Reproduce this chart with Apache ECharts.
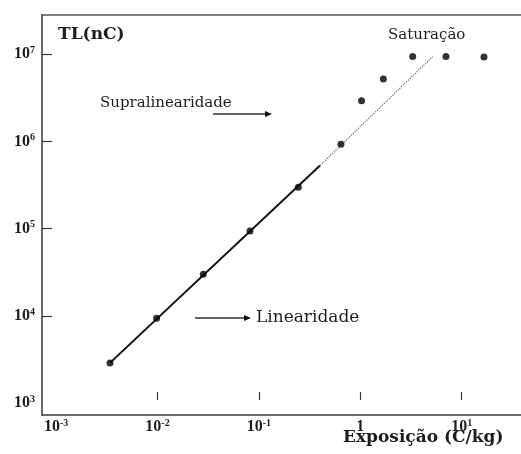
<!DOCTYPE html>
<html>
<head>
<meta charset="utf-8">
<script src="https://cdn.jsdelivr.net/npm/echarts@6/dist/echarts.min.js"></script>
<style>html,body{margin:0;padding:0;background:#fff}#c{width:521px;height:454px}</style>
</head>
<body>
<div id="c"></div>
<script>
// Data (log-log)
var exposure = [0.0034, 0.0098, 0.0283, 0.0817, 0.245, 0.645, 1.03, 1.69, 3.29, 7.0, 16.6];
var tlCharge = [2900, 9400, 30000, 94500, 299000, 931000, 2.93e6, 5.22e6, 9.4e6, 9.4e6, 9.3e6];
var linearFitX = [0.0034, 0.401];
var linearFitY = [2900, 530000];
var extrapX = [0.401, 5.18];
var extrapY = [530000, 9.4e6];
var xTickLabels = [0.001, 0.01, 0.1, 1, 10];
var xTickMarks = [0.01, 0.1, 1, 10];
var yTickLabels = [1e3, 1e4, 1e5, 1e6, 1e7];
var yTickMarks = [1e4, 1e5, 1e6, 1e7];

var xMin = Math.pow(10, -3.139), xMax = Math.pow(10, 1.615);
var yMin = Math.pow(10, 2.865), yMax = Math.pow(10, 7.45);

function pairs(a, b) { return a.map(function (v, i) { return [v, b[i]]; }); }
function powLabel(v) {
  var e = Math.round(Math.log10(v));
  if (e === 0) return '{b|1}';
  return '{b|10}{s|' + e + '}';
}
var ink = '#1e1e1e';
var axisCol = '#3a3a3a';
var richLab = {
  b: { fontFamily: 'Liberation Serif', fontWeight: 'bold', fontSize: 16, color: ink, lineHeight: 18 },
  s: { fontFamily: 'Liberation Serif', fontWeight: 'bold', fontSize: 10, color: ink, lineHeight: 18, padding: [0, 0, 8, 0] }
};

var chart = echarts.init(document.getElementById('c'));
chart.setOption({
  animation: false,
  backgroundColor: '#fff',
  grid: { left: 42, right: -3, top: 15, bottom: 39, containLabel: false, outerBoundsMode: 'none', show: false },
  xAxis: [
    {
      type: 'log', logBase: 10, min: xMin, max: xMax, position: 'bottom',
      splitLine: { show: false },
      axisLine: { show: true, lineStyle: { color: axisCol, width: 1.5 } },
      axisTick: { show: false },
      axisLabel: { customValues: xTickLabels, formatter: powLabel, rich: richLab, margin: 3 }
    },
    {
      type: 'log', logBase: 10, min: xMin, max: xMax, position: 'bottom', offset: -15,
      splitLine: { show: false },
      axisLine: { show: false },
      axisTick: { show: true, inside: true, length: 8, customValues: xTickMarks, lineStyle: { color: axisCol, width: 1.2 } },
      axisLabel: { show: false }
    },
    {
      type: 'log', logBase: 10, min: xMin, max: xMax, position: 'top',
      splitLine: { show: false },
      axisLine: { show: true, lineStyle: { color: '#555', width: 1.5 } },
      axisTick: { show: false },
      axisLabel: { show: false }
    }
  ],
  yAxis: {
    type: 'log', logBase: 10, min: yMin, max: yMax,
    splitLine: { show: false },
    axisLine: { show: true, lineStyle: { color: axisCol, width: 1.5 } },
    axisTick: { show: true, inside: true, length: 10, customValues: yTickMarks, lineStyle: { color: axisCol, width: 1.2 } },
    axisLabel: { customValues: yTickLabels, formatter: powLabel, rich: richLab, margin: 7 }
  },
  series: [
    {
      type: 'line', data: pairs(linearFitX, linearFitY), symbol: 'none',
      lineStyle: { color: '#111', width: 2 }, z: 2
    },
    {
      type: 'line', data: pairs(extrapX, extrapY), symbol: 'none',
      lineStyle: { color: '#666', width: 1.2, type: 'dotted' }, z: 2
    },
    {
      type: 'scatter', data: pairs(exposure, tlCharge), symbol: 'circle', symbolSize: 7,
      itemStyle: { color: '#000' }, z: 3
    }
  ],
  graphic: [
    { type: 'text', style: { text: 'TL(nC)', x: 58, y: 35, verticalAlign: 'middle', font: 'bold 17px "DejaVu Serif"', fill: ink } },
    { type: 'text', style: { text: 'Saturação', x: 388, y: 35, verticalAlign: 'middle', font: '15px "DejaVu Serif"', fill: ink } },
    { type: 'text', style: { text: 'Supralinearidade', x: 100, y: 103, verticalAlign: 'middle', font: '15px "DejaVu Serif"', fill: ink } },
    { type: 'line', shape: { x1: 213, y1: 114, x2: 266, y2: 114 }, style: { stroke: '#333', lineWidth: 1.3 } },
    { type: 'polygon', shape: { points: [[265, 111], [272, 114], [265, 117]] }, style: { fill: '#111' } },
    { type: 'line', shape: { x1: 195, y1: 318, x2: 245, y2: 318 }, style: { stroke: '#333', lineWidth: 1.3 } },
    { type: 'polygon', shape: { points: [[244, 315], [251, 318], [244, 321]] }, style: { fill: '#111' } },
    { type: 'text', style: { text: 'Linearidade', x: 256, y: 318, verticalAlign: 'middle', font: '17px "DejaVu Serif"', fill: ink } },
    { type: 'text', style: { text: 'Exposição (C/kg)', x: 343, y: 438, verticalAlign: 'middle', font: 'bold 17px "DejaVu Serif"', fill: ink } }
  ]
});
</script>
</body>
</html>
